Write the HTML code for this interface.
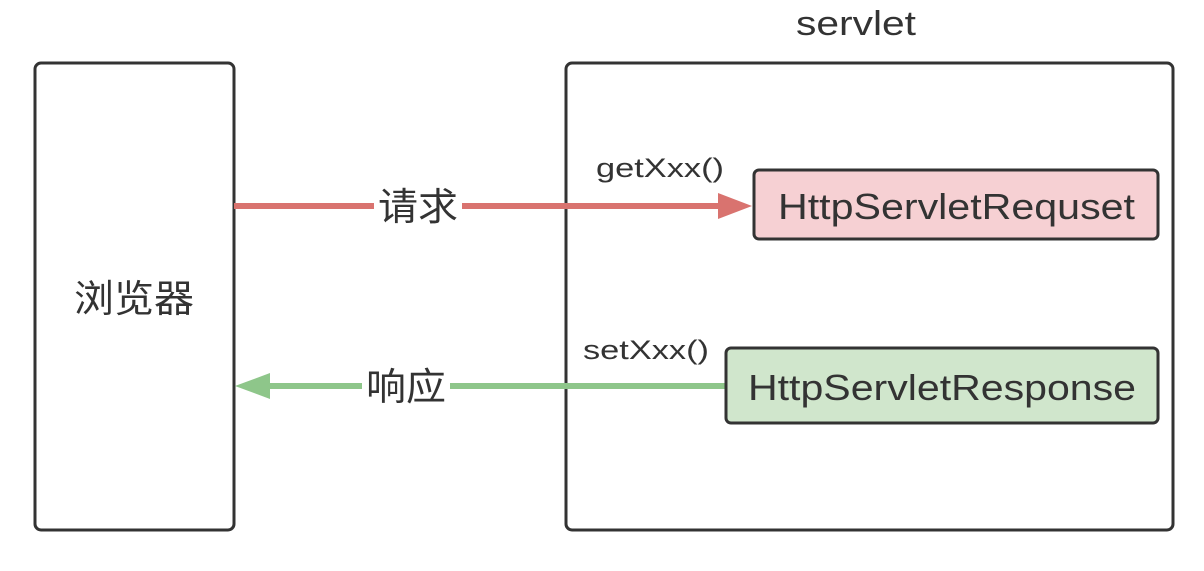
<!DOCTYPE html>
<html><head><meta charset="utf-8"><style>body{margin:0;background:#fff}</style></head><body>
<svg width="1204" height="566" xmlns="http://www.w3.org/2000/svg" font-family="Liberation Sans, Noto Sans CJK SC, sans-serif" fill="#333">
<rect x="0" y="0" width="1204" height="566" fill="#fff"/>
<rect x="35" y="63" width="199" height="467" rx="6" fill="#fff" stroke="#333" stroke-width="3"/>
<rect x="566" y="63" width="607" height="467" rx="6" fill="#fff" stroke="#333" stroke-width="3"/>
<text x="796" y="35" font-size="34" textLength="120" lengthAdjust="spacingAndGlyphs">servlet</text>
<text x="74" y="312" font-size="38" textLength="120" lengthAdjust="spacingAndGlyphs">浏览器</text>
<line x1="234" y1="206" x2="722" y2="206" stroke="#d9736f" stroke-width="6"/>
<polygon points="718,193 752,206 718,219" fill="#d9736f"/>
<rect x="374" y="184" width="88" height="44" fill="#fff"/>
<text x="378" y="220" font-size="38" textLength="80" lengthAdjust="spacingAndGlyphs">请求</text>
<rect x="754" y="170" width="404" height="69" rx="5" fill="#f6d0d3" stroke="#333" stroke-width="3"/>
<text x="778" y="219" font-size="36" textLength="357" lengthAdjust="spacingAndGlyphs">HttpServletRequset</text>
<text x="596" y="177" font-size="27" textLength="128" lengthAdjust="spacingAndGlyphs">getXxx()</text>
<line x1="266" y1="386" x2="726" y2="386" stroke="#8ec68a" stroke-width="6"/>
<polygon points="270,373 235,386 270,399" fill="#8ec68a"/>
<rect x="362" y="364" width="88" height="44" fill="#fff"/>
<text x="366" y="400" font-size="38" textLength="80" lengthAdjust="spacingAndGlyphs">响应</text>
<rect x="726" y="348" width="432" height="75" rx="5" fill="#d0e6cc" stroke="#333" stroke-width="3"/>
<text x="748" y="400" font-size="36" textLength="388" lengthAdjust="spacingAndGlyphs">HttpServletResponse</text>
<text x="583" y="359" font-size="27" textLength="126" lengthAdjust="spacingAndGlyphs">setXxx()</text>
</svg>
</body></html>
